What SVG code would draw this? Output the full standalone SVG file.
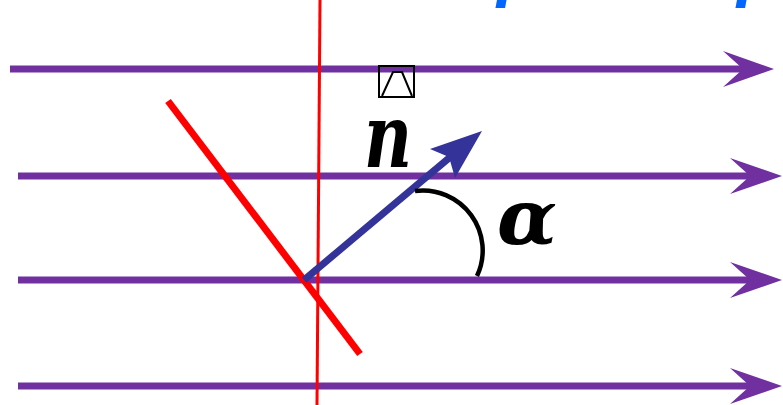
<svg xmlns="http://www.w3.org/2000/svg" width="783" height="405" viewBox="0 0 783 405">
<style>
.fl{stroke:#7030A0;stroke-width:7;fill:none}
.ah{fill:#7030A0}
.top{font-family:"Liberation Sans",Arial,sans-serif;font-style:italic;font-weight:bold;font-size:70px;fill:#0066FF}
.sym{font-family:"DejaVu Serif","Liberation Serif",serif;font-style:italic;font-weight:bold;fill:#000}
</style>
<rect width="783" height="405" fill="#fff"/>
<g id="top-text">
<text class="top" x="497" y="-7">p</text>
<text class="top" x="737" y="-7">p</text>
</g>
<g id="connectors">
<g id="field-line-1"><line class="fl" x1="10" y1="69" x2="745" y2="69"/><polygon class="ah" points="774,69 723,51 743,69 723,87"/></g>
<g id="field-line-2"><line class="fl" x1="18" y1="176" x2="752" y2="176"/><polygon class="ah" points="782,176 730,158 750,176 730,194"/></g>
<g id="field-line-3"><line class="fl" x1="18" y1="280" x2="752" y2="280"/><polygon class="ah" points="782,280 730,262 750,280 730,298"/></g>
<g id="field-line-4"><line class="fl" x1="18" y1="386" x2="752" y2="386"/><polygon class="ah" points="782,386 730,368 750,386 730,404"/></g>
</g>
<g id="normal-line"><line x1="320" y1="0" x2="317" y2="405" stroke="#FF0000" stroke-width="3"/></g>
<g id="plane"><line x1="168" y1="101" x2="360" y2="354" stroke="#FF0000" stroke-width="7"/></g>
<g id="normal-vector">
<line x1="304" y1="280" x2="455" y2="153" stroke="#333399" stroke-width="7"/>
<polygon points="482,131 430,149 449,157 455,178" fill="#333399"/>
</g>
<g id="angle"><path d="M415,191 A60,60 0 0,1 477,276" fill="none" stroke="#000" stroke-width="4.5"/></g>
<g id="label-n">
<rect x="379" y="66" width="35" height="31" fill="none" stroke="#000" stroke-width="2"/>
<polyline points="382,96 393,72 402,72 412,96" fill="none" stroke="#000" stroke-width="2"/>
<text class="sym" x="364" y="167" font-size="88" textLength="48" lengthAdjust="spacingAndGlyphs">n</text>
</g>
<g id="label-alpha"><text class="sym" x="497" y="244" font-size="76" textLength="60" lengthAdjust="spacingAndGlyphs">α</text></g>
</svg>
